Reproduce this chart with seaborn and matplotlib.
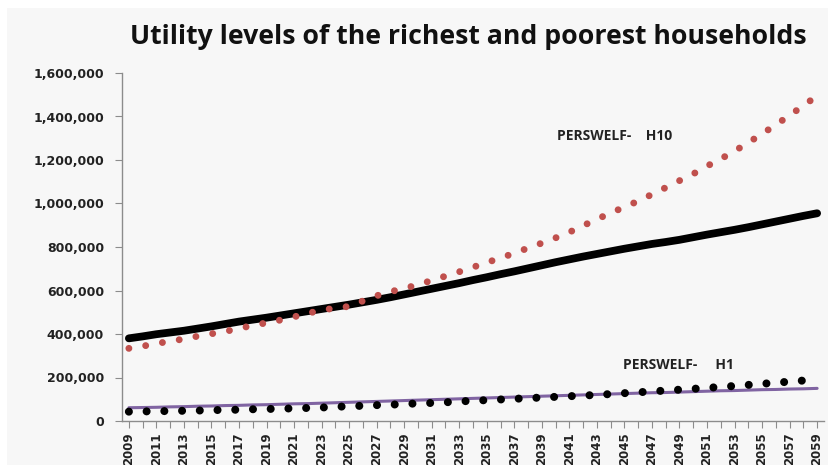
"""utility levels of the richest and poorest households, 2009-2059"""
import matplotlib.pyplot as plt
import matplotlib.patches as mpatches
import numpy as np
import pandas as pd
import seaborn as sns
from matplotlib.ticker import FuncFormatter, MultipleLocator

years = list(range(2009, 2060))

# H10 scenario (red dotted), thousands
h10_scenario = [
    334, 344, 356, 367, 377, 390, 401, 412, 425, 440,
    451, 464, 479, 495, 510, 519, 527, 552, 576, 594,
    611, 625, 647, 666, 686, 707, 729, 749, 772, 795,
    818, 842, 868, 898, 928, 956, 984, 1011, 1042, 1073,
    1105, 1136, 1172, 1205, 1241, 1280, 1320, 1362, 1405, 1450,
    1495,
]
# H10 baseline (black solid), thousands
h10_base = [
    380, 389, 399, 407, 415, 425, 435, 446, 457, 466,
    475, 485, 495, 505, 515, 525, 535, 546, 557, 569,
    582, 595, 608, 621, 634, 648, 661, 675, 688, 702,
    716, 730, 743, 756, 768, 780, 792, 803, 814, 823,
    833, 845, 857, 868, 879, 891, 904, 917, 930, 943,
    955,
]
# H1 scenario (black dotted), thousands
h1_scenario = [
    43, 44, 45, 46, 47, 48, 50, 51, 52, 54,
    55, 57, 58, 60, 62, 65, 68, 70, 73, 75,
    78, 81, 83, 86, 90, 93, 96, 99, 102, 105,
    108, 111, 114, 117, 120, 124, 128, 132, 136, 140,
    144, 148, 152, 157, 161, 166, 171, 176, 181, 186,
    191,
]
# H1 baseline (purple solid), thousands
h1_base = [
    61, 62, 63, 65, 66, 68, 69, 71, 72, 74,
    75, 77, 79, 80, 82, 84, 86, 88, 90, 92,
    94, 96, 98, 100, 102, 104, 106, 108, 110, 112,
    114, 116, 118, 120, 122, 124, 126, 128, 130, 131,
    133, 135, 137, 139, 140, 142, 144, 145, 147, 148,
    150,
]

df = pd.DataFrame({
    "year": years,
    "h10_scenario": np.array(h10_scenario) * 1000,
    "h10_base": np.array(h10_base) * 1000,
    "h1_scenario": np.array(h1_scenario) * 1000,
    "h1_base": np.array(h1_base) * 1000,
})

sns.set_style("white")
plt.rcParams["font.family"] = ["DejaVu Sans"]

W, H = 829, 465
fig = plt.figure(figsize=(W / 100, H / 100), dpi=100, facecolor="white")
fig.patches.append(mpatches.Rectangle(
    (7 / W, 0), 1 - 7 / W, 1 - 8 / H, transform=fig.transFigure,
    facecolor="#f7f7f7", edgecolor="none", zorder=-10))
ax = fig.add_axes([122 / W, (H - 421) / H, (824 - 122) / W, (421 - 73) / H])
ax.set_facecolor("#f7f7f7")

sns.lineplot(df, x="year", y="h1_base", ax=ax, color="#8064a2", linewidth=2.2)
sns.lineplot(df, x="year", y="h10_base", ax=ax, color="black", linewidth=5.6)
sns.lineplot(df, x="year", y="h10_scenario", ax=ax, color="#c0504d", linewidth=5.0)
sns.lineplot(df, x="year", y="h1_scenario", ax=ax, color="black", linewidth=5.8)

red, black_dots = ax.lines[2], ax.lines[3]
red.set_dashes((0.001, 2.45))
red.set_dash_capstyle("round")
black_dots.set_dashes((0.001, 2.2))
black_dots.set_dash_capstyle("round")

ax.set_xlim(2008.5, 2059.5)
ax.set_ylim(0, 1_600_000)
ax.yaxis.set_major_locator(MultipleLocator(200_000))
ax.yaxis.set_major_formatter(FuncFormatter(lambda v, p: f"{int(v):,}"))
ax.set_xticks(years[::2])
ax.set_xticks(years, minor=True)
ax.set_xticklabels([str(y) for y in years[::2]], rotation=90)
ax.set_xlabel("")
ax.set_ylabel("")

for s in ["top", "right"]:
    ax.spines[s].set_visible(False)
for s in ["left", "bottom"]:
    ax.spines[s].set_color("#8c8c8c")
    ax.spines[s].set_linewidth(1.0)

ax.tick_params(axis="y", which="major", direction="out", length=5, width=0.8,
               color="#8c8c8c", left=True, labelsize=9, pad=8)
ax.tick_params(axis="x", which="both", direction="out", length=5, width=0.8,
               color="#8c8c8c", bottom=True, labelsize=8.5, pad=3)
for lab in ax.get_yticklabels() + ax.get_xticklabels():
    lab.set_fontweight("bold")
    lab.set_color("#222222")

fig.text(468 / W, 1 - 37 / H, "Utility levels of the richest and poorest households",
         ha="center", va="center", fontsize=19.2, fontweight="bold",
         family=["Open Sans", "DejaVu Sans"], color="#111111")

ax.text(2044.3, 1_310_000, "PERSWELF-    H10", ha="center", va="center",
        fontsize=10, fontweight="bold", family=["Open Sans", "DejaVu Sans"],
        color="#222222")
ax.text(2048.9, 257_000, "PERSWELF-     H1", ha="center", va="center",
        fontsize=10, fontweight="bold", family=["Open Sans", "DejaVu Sans"],
        color="#222222")

fig.savefig("out.png", dpi=100, facecolor=fig.get_facecolor())
